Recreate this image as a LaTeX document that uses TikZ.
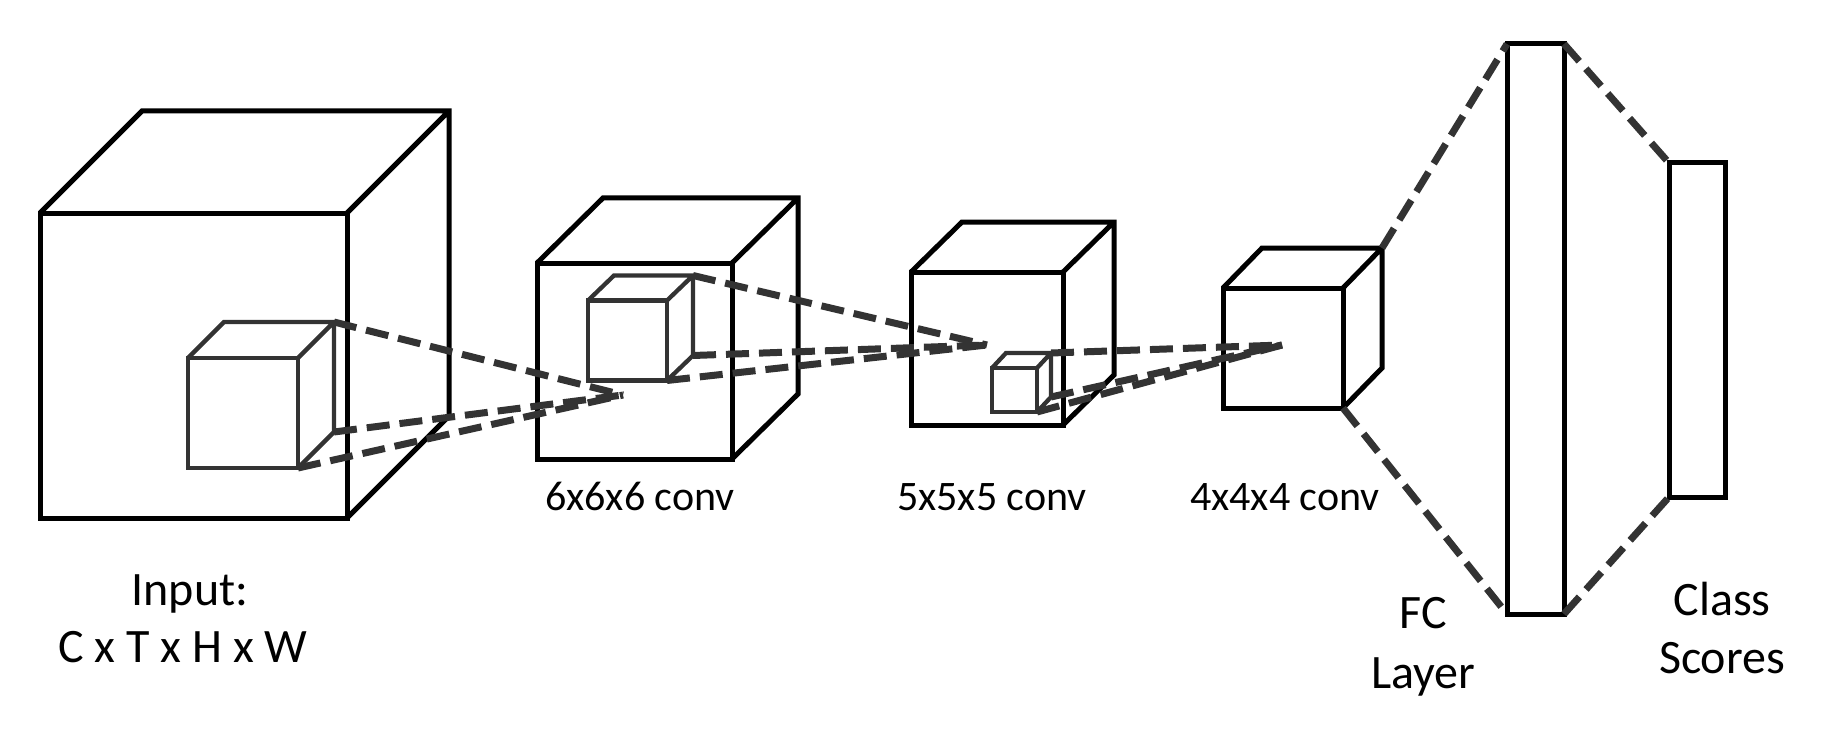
\documentclass[tikz,border=0pt]{standalone}
\usepackage{fontspec}
\setmainfont{Carlito}
\begin{document}
\begin{tikzpicture}[x=1pt,y=-1pt,
  box/.style={draw,line width=5pt,inner sep=0pt,outer sep=0pt},
  small box/.style={draw=black!80,line width=4.3pt,inner sep=0pt,outer sep=0pt},
  back/.style={line width=5pt},
  small back/.style={draw=black!80,line width=4.3pt},
  conn/.style={draw=black!80,line width=7pt,dash pattern=on 23pt off 10pt},
  big label/.style={font=\fontsize{48}{58}\selectfont,anchor=base,inner sep=0pt},
  conv label/.style={font=\fontsize{42}{50}\selectfont,anchor=base,inner sep=0pt}]
  \useasboundingbox (0,0) rectangle (1830,730);

  \node[box,minimum width=307pt,minimum height=305pt] (1) at (193.5,365.5) {};
  \node[box,minimum width=195pt,minimum height=196pt] (2) at (634.5,361) {};
  \node[box,minimum width=152pt,minimum height=153pt] (3) at (987,348.5) {};
  \node[box,minimum width=120pt,minimum height=120pt] (4) at (1283,348) {};
  \node[box,minimum width=57pt,minimum height=570pt] (fc) at (1535.5,329) {};
  \node[box,minimum width=56pt,minimum height=334pt] (cls) at (1697,330) {};

  \draw[back] (1.north west) -- ++(102,-102) -- ++(307,0) -- ++(0,305) -- (1.south east) (1.north east) -- ++(102,-102) coordinate (1t);
  \draw[back] (2.north west) -- ++(66,-65) -- ++(195,0) -- ++(0,196) -- (2.south east) (2.north east) -- ++(66,-65);
  \draw[back] (3.north west) -- ++(51,-50) -- ++(152,0) -- ++(0,153) -- (3.south east) (3.north east) -- ++(51,-50);
  \draw[back] (4.north west) -- ++(39,-40) -- ++(120,0) -- ++(0,120) -- (4.south east) (4.north east) -- ++(39,-40) coordinate (4t);

  \node[small box,minimum width=110pt,minimum height=110pt] (11) at (243,413) {};
  \node[small box,minimum width=79pt,minimum height=80pt] (12) at (627.5,340.5) {};
  \node[small box,minimum width=45pt,minimum height=44pt] (13) at (1014.5,390) {};

  \draw[small back] (11.north west) -- ++(36,-36) -- ++(110,0) coordinate (11t) -- ++(0,110) coordinate (11b) -- (11.south east) (11.north east) -- ++(36,-36);
  \draw[small back] (12.north west) -- ++(26,-25) -- ++(79,0) coordinate (12t) -- ++(0,80) coordinate (12b) -- (12.south east) (12.north east) -- ++(26,-25);
  \draw[small back] (13.north west) -- ++(14,-15) -- ++(45,0) coordinate (13t) -- ++(0,44) coordinate (13b) -- (13.south east) (13.north east) -- ++(14,-15);

  \coordinate (p1) at (623,395);
  \coordinate (p2) at (987,345);
  \coordinate (p3) at (1282,345);

  \path[conn]
   (11t) edge (p1)
   (11b) edge (p1)
   (11.south east) edge (p1)
   (12t) edge (p2)
   (12b) edge (p2)
   (12.south east) edge (p2)
   (13t) edge (p3)
   (13b) edge (p3)
   (13.south east) edge (p3)
   (4t) edge (fc.north west)
   (4.south east) edge (fc.south west)
   (fc.north east) edge (cls.north west)
   (fc.south east) edge (cls.south west);

  \node[big label] (in1) at (190,605) {Input:};
  \node[big label] (in2) at (183,662) {C x T x H x W};
  \node[conv label] (l2) at (640,510) {6x6x6 conv};
  \node[conv label] (l3) at (992,510) {5x5x5 conv};
  \node[conv label] (l4) at (1285,510) {4x4x4 conv};
  \node[big label] (fc1) at (1423,628) {FC};
  \node[big label] (fc2) at (1423,688) {Layer};
  \node[big label] (cls1) at (1722,615) {Class};
  \node[big label] (cls2) at (1722,673) {Scores};
\end{tikzpicture}
\end{document}
